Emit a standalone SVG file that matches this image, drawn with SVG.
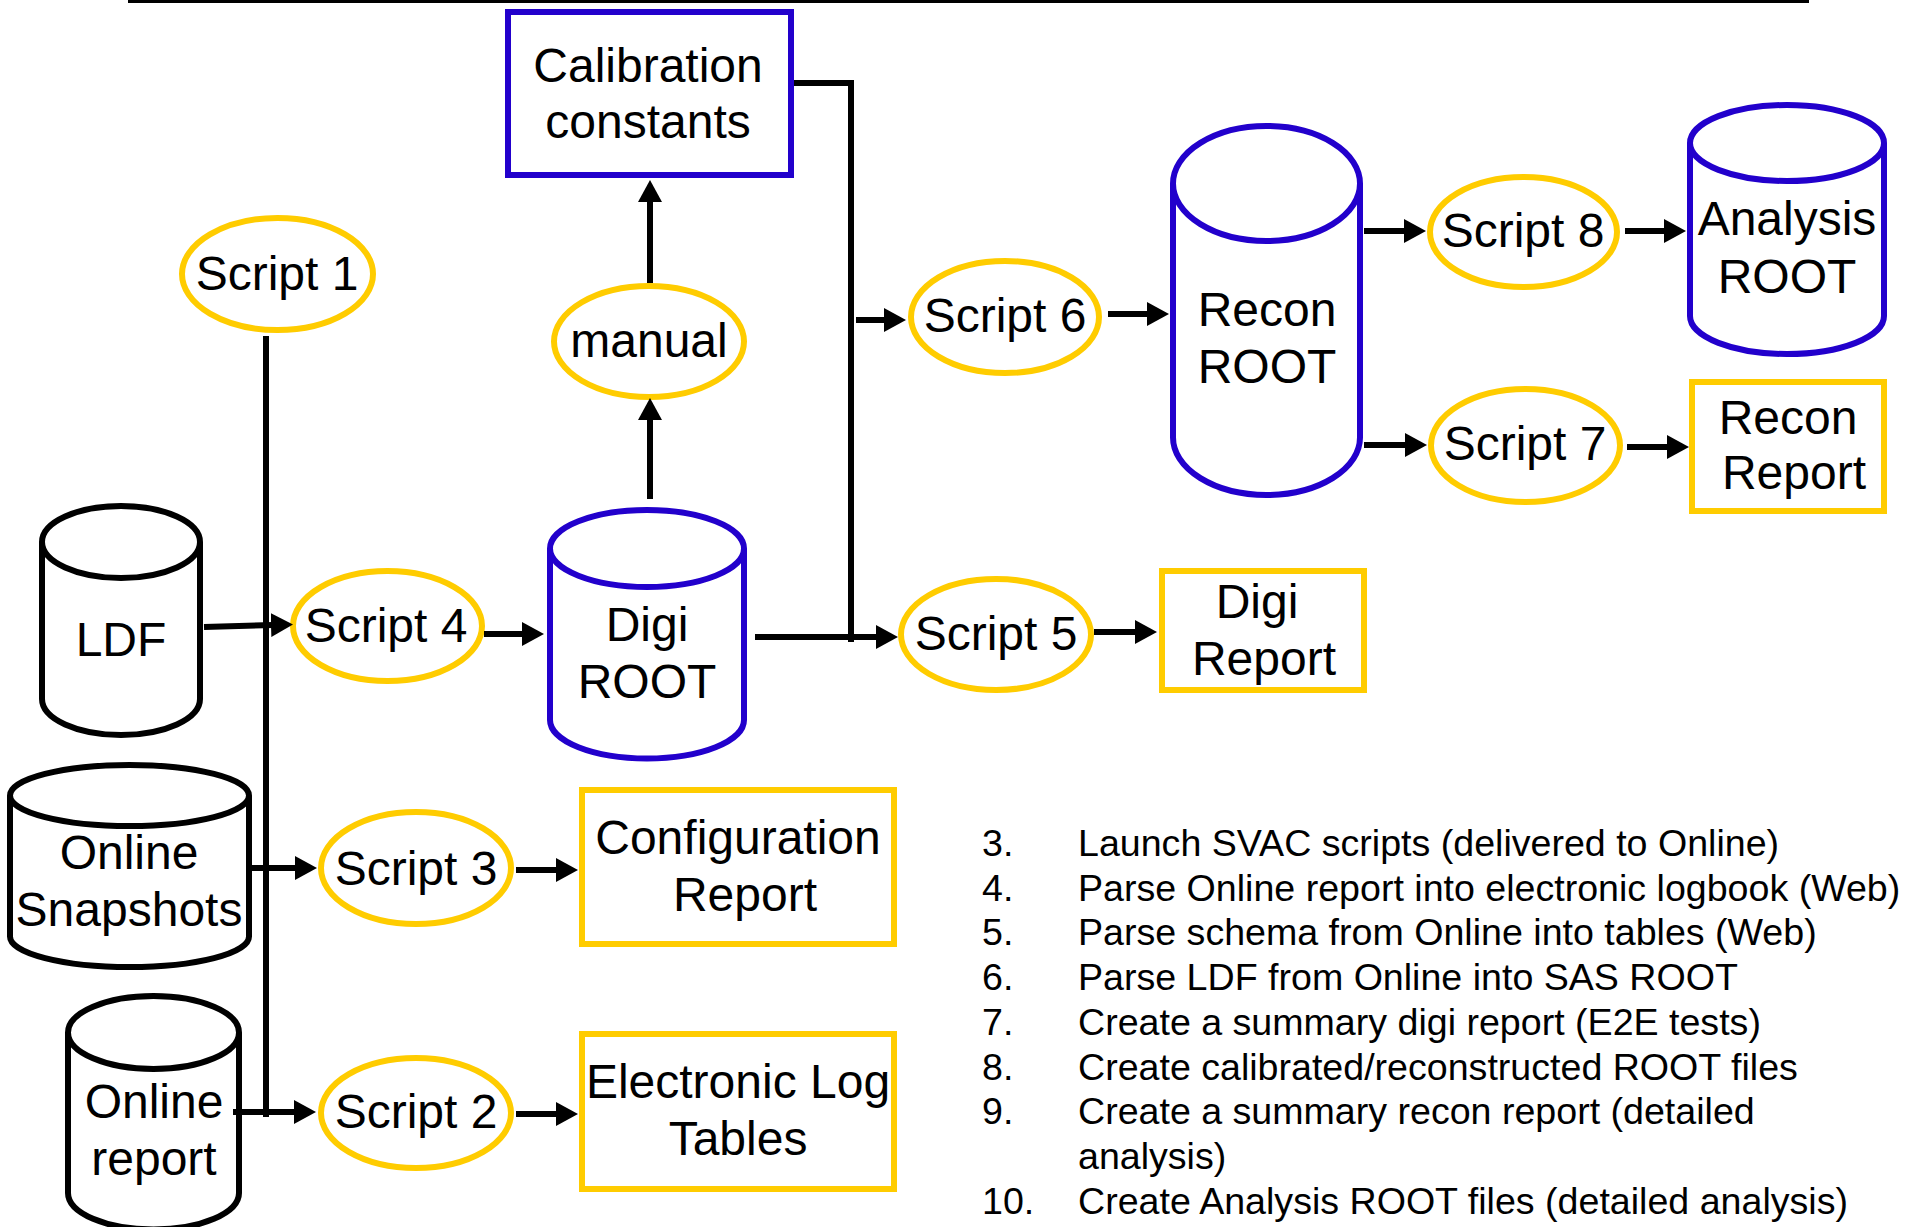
<svg xmlns="http://www.w3.org/2000/svg" width="1905" height="1227" viewBox="0 0 1905 1227">
<style>
  .lbl { font-family: "Liberation Sans", Arial, sans-serif; font-size: 48px; fill: #000; text-anchor: middle; }
  .lst { font-family: "Liberation Sans", Arial, sans-serif; font-size: 37.6px; fill: #000; }
  .script { fill: #fff; stroke: #FFCC00; stroke-width: 6; }
  .report { fill: #fff; stroke: #FFCC00; stroke-width: 6; }
  .blue { fill: #fff; stroke: #2200CC; stroke-width: 6; }
  .black { fill: #fff; stroke: #000; stroke-width: 6; }
  .conn { fill: none; stroke: #000; stroke-width: 6; }
  .arr { marker-end: url(#ah); }
</style>
<defs>
  <marker id="ah" markerUnits="userSpaceOnUse" markerWidth="24" markerHeight="26" viewBox="0 0 24 26" refX="2" refY="13" orient="auto">
    <path d="M0,1 L22,13 L0,25 z" fill="#000"/>
  </marker>
</defs>

<line x1="128" y1="1.5" x2="1809" y2="1.5" stroke="#000" stroke-width="3"/>

<g id="calibration">
  <rect class="blue" x="508" y="12" width="283" height="163"/>
  <text class="lbl" x="648" y="82">Calibration</text>
  <text class="lbl" x="648" y="138">constants</text>
</g>

<g id="script1">
  <ellipse class="script" cx="277.5" cy="274" rx="95.5" ry="56"/>
  <text class="lbl" x="277" y="290">Script 1</text>
</g>

<g id="manual">
  <ellipse class="script" cx="649" cy="341.5" rx="95" ry="55.5"/>
  <text class="lbl" x="649" y="357">manual</text>
</g>

<g id="ldf">
  <path class="black" d="M42,542 L42,699 A79 36 0 0 0 200,699 L200,542"/>
  <ellipse class="black" cx="121" cy="542" rx="79" ry="36"/>
  <text class="lbl" x="121" y="656">LDF</text>
</g>

<g id="snapshots">
  <path class="black" d="M10,795.5 L10,936.5 A119.5 30.5 0 0 0 249,936.5 L249,795.5"/>
  <ellipse class="black" cx="129.5" cy="795.5" rx="119.5" ry="30.5"/>
  <text class="lbl" x="129" y="869">Online</text>
  <text class="lbl" x="129" y="926">Snapshots</text>
</g>

<g id="onlinereport">
  <path class="black" d="M68,1032.5 L68,1193 A85.5 36.5 0 0 0 239,1193 L239,1032.5"/>
  <ellipse class="black" cx="153.5" cy="1032.5" rx="85.5" ry="36.5"/>
  <text class="lbl" x="154" y="1118">Online</text>
  <text class="lbl" x="154" y="1175">report</text>
</g>

<g id="script4">
  <ellipse class="script" cx="387.5" cy="626" rx="94.5" ry="55"/>
  <text class="lbl" x="386" y="642">Script 4</text>
</g>

<g id="script3">
  <ellipse class="script" cx="416" cy="868" rx="95" ry="56"/>
  <text class="lbl" x="416" y="885">Script 3</text>
</g>

<g id="script2">
  <ellipse class="script" cx="416" cy="1113" rx="95" ry="55"/>
  <text class="lbl" x="416" y="1128">Script 2</text>
</g>

<g id="digiroot">
  <path class="blue" d="M550,548.5 L550,720 A97 38.5 0 0 0 744,720 L744,548.5"/>
  <ellipse class="blue" cx="647" cy="548.5" rx="97" ry="38.5"/>
  <text class="lbl" x="647" y="641">Digi</text>
  <text class="lbl" x="647" y="698">ROOT</text>
</g>

<g id="configreport">
  <rect class="report" x="582" y="790" width="312" height="154"/>
  <text class="lbl" x="738" y="854">Configuration</text>
  <text class="lbl" x="745" y="911">Report</text>
</g>

<g id="eloglog">
  <rect class="report" x="582" y="1034" width="312" height="155"/>
  <text class="lbl" x="738" y="1098">Electronic Log</text>
  <text class="lbl" x="738" y="1155">Tables</text>
</g>

<g id="script5">
  <ellipse class="script" cx="996" cy="634.5" rx="95" ry="55.5"/>
  <text class="lbl" x="996" y="650">Script 5</text>
</g>

<g id="digireport">
  <rect class="report" x="1162" y="571" width="202" height="119"/>
  <text class="lbl" x="1257" y="618">Digi</text>
  <text class="lbl" x="1264" y="675">Report</text>
</g>

<g id="script6">
  <ellipse class="script" cx="1005" cy="317" rx="94" ry="56"/>
  <text class="lbl" x="1005" y="332">Script 6</text>
</g>

<g id="reconroot">
  <path class="blue" d="M1173,183.5 L1173,437.5 A93.5 57.5 0 0 0 1360,437.5 L1360,183.5"/>
  <ellipse class="blue" cx="1266.5" cy="183.5" rx="93.5" ry="57.5"/>
  <text class="lbl" x="1267" y="326">Recon</text>
  <text class="lbl" x="1267" y="383">ROOT</text>
</g>

<g id="script8">
  <ellipse class="script" cx="1523.5" cy="232" rx="93.5" ry="55"/>
  <text class="lbl" x="1523" y="247">Script 8</text>
</g>

<g id="script7">
  <ellipse class="script" cx="1525.5" cy="445.5" rx="94.5" ry="56.5"/>
  <text class="lbl" x="1525" y="460">Script 7</text>
</g>

<g id="analysisroot">
  <path class="blue" d="M1690,143 L1690,316 A97 38 0 0 0 1884,316 L1884,143"/>
  <ellipse class="blue" cx="1787" cy="143" rx="97" ry="38"/>
  <text class="lbl" x="1787" y="235">Analysis</text>
  <text class="lbl" x="1787" y="293">ROOT</text>
</g>

<g id="reconreport">
  <rect class="report" x="1692" y="382" width="192" height="129"/>
  <text class="lbl" x="1788" y="434">Recon</text>
  <text class="lbl" x="1794" y="489">Report</text>
</g>

<g id="connectors">
  <path class="conn" d="M266,336 V1117"/>
  <path class="conn arr" d="M204,627 L273,625"/>
  <path class="conn arr" d="M252,868 L297,868"/>
  <path class="conn arr" d="M233,1112 L296,1112"/>
  <path class="conn arr" d="M484,634 L524,634"/>
  <path class="conn arr" d="M516,870 L558,870"/>
  <path class="conn arr" d="M516,1114 L558,1114"/>
  <path class="conn arr" d="M650,499 L650,418"/>
  <path class="conn arr" d="M650,283 L650,200"/>
  <path class="conn" d="M794,83 H851 V642"/>
  <path class="conn arr" d="M755,637 H878"/>
  <path class="conn arr" d="M856,320 H886"/>
  <path class="conn arr" d="M1108,314 H1149"/>
  <path class="conn arr" d="M1364,231 H1406"/>
  <path class="conn arr" d="M1625,231 H1666"/>
  <path class="conn arr" d="M1364,445 H1407"/>
  <path class="conn arr" d="M1627,447 H1669"/>
  <path class="conn arr" d="M1094,632 H1137"/>
</g>

<g id="legend">
  <text class="lst" x="982" y="856">3.</text><text class="lst" x="1078" y="856">Launch SVAC scripts (delivered to Online)</text>
  <text class="lst" x="982" y="901">4.</text><text class="lst" x="1078" y="901">Parse Online report into electronic logbook (Web)</text>
  <text class="lst" x="982" y="945">5.</text><text class="lst" x="1078" y="945">Parse schema from Online into tables (Web)</text>
  <text class="lst" x="982" y="990">6.</text><text class="lst" x="1078" y="990">Parse LDF from Online into SAS ROOT</text>
  <text class="lst" x="982" y="1035">7.</text><text class="lst" x="1078" y="1035">Create a summary digi report (E2E tests)</text>
  <text class="lst" x="982" y="1080">8.</text><text class="lst" x="1078" y="1080">Create calibrated/reconstructed ROOT files</text>
  <text class="lst" x="982" y="1124">9.</text><text class="lst" x="1078" y="1124">Create a summary recon report (detailed</text>
  <text class="lst" x="1078" y="1169">analysis)</text>
  <text class="lst" x="982" y="1214">10.</text><text class="lst" x="1078" y="1214">Create Analysis ROOT files (detailed analysis)</text>
</g>
</svg>
